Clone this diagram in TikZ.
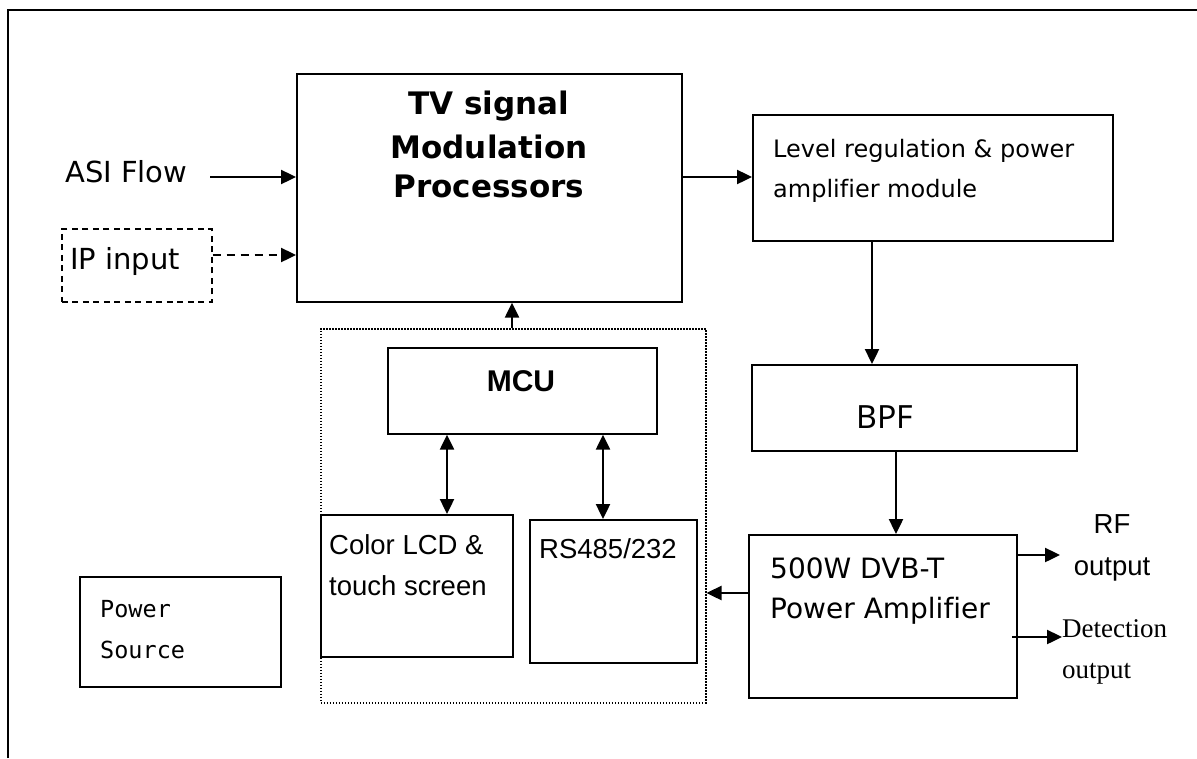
\documentclass[tikz,border=0pt]{standalone}
\usepackage{fontspec}
\setmainfont[Ligatures=CommonOff]{DejaVu Sans}
\newfontfamily\arialf{Liberation Sans}
\newfontfamily\timesf{Liberation Serif}
\newfontfamily\monof{DejaVu Sans Mono}
\newfontfamily\notof{Noto Sans}
\usetikzlibrary{arrows.meta}
\begin{document}
\begin{tikzpicture}[x=1pt,y=-1pt,
  box/.style={draw, line width=1.7pt, inner sep=0pt, anchor=north west},
  conn/.style={line width=2.4pt, -{Triangle[length=15pt,width=14pt]}},
  dconn/.style={line width=2.4pt, {Triangle[length=15pt,width=14pt]}-{Triangle[length=15pt,width=14pt]}},
  lbl/.style={inner sep=0pt, anchor=base west},
  clbl/.style={inner sep=0pt, anchor=base}]
\useasboundingbox (0,0) rectangle (1197,758);
% outer frame
\coordinate (fbl) at (8,758);
\coordinate (ftl) at (8,10);
\coordinate (ftr) at (1197,10);
\draw[line width=2pt] (fbl) -- (ftl) -- (ftr);

% boxes
\node[box, dashed, line width=1.6pt, dash pattern=on 6pt off 4.5pt, minimum width=150pt, minimum height=73pt] (ip) at (61,228) {};
\node[box, minimum width=385pt, minimum height=228pt] (tv) at (296,73) {};
\node[box, minimum width=360pt, minimum height=126pt] (lvl) at (752,114) {};
\node[box, minimum width=325pt, minimum height=86pt] (bpf) at (751,364) {};
\node[box, minimum width=268pt, minimum height=163pt] (pa) at (748,534) {};
\node[box, line width=1.5pt, dash pattern=on 1.5pt off 1.5pt, minimum width=385pt, minimum height=374pt] (dot) at (320,328) {};
\node[box, minimum width=269pt, minimum height=86pt] (mcu) at (387,347) {};
\node[box, minimum width=192pt, minimum height=142pt] (lcd) at (320,514) {};
\node[box, minimum width=167pt, minimum height=143pt] (rs) at (529,519) {};
\node[box, minimum width=201pt, minimum height=110pt] (pwr) at (79,576) {};

% texts
\node[lbl, font=\fontsize{29}{35}\selectfont] (asi) at (65,182) {ASI Flow};
\node[lbl, font=\fontsize{29}{35}\selectfont] (iptxt) at (70,269) {IP input};
\node[clbl, font=\bfseries\fontsize{31}{36}\selectfont] (tv1) at (489,114) {TV signal};
\node[clbl, font=\bfseries\fontsize{31}{36}\selectfont] (tv2) at (489,158) {Modulation};
\node[clbl, font=\bfseries\fontsize{31}{36}\selectfont] (tv3) at (489,197) {Processors};
\node[lbl, font=\fontsize{24}{30}\selectfont] (lv1) at (773,157) {Level regulation \& power};
\node[lbl, font=\fontsize{24}{30}\selectfont] (lv2) at (773,197) {amplifier module};
\node[clbl, font=\notof\fontsize{32}{38}\selectfont] (bpft) at (885,428) {BPF};
\node[lbl, font=\fontsize{28}{34}\selectfont] (pa1) at (770,578) {500W DVB-T};
\node[lbl, font=\fontsize{28}{34}\selectfont] (pa2) at (770,618) {Power Amplifier};
\node[clbl, font=\arialf\fontsize{27.5}{33}\selectfont] (rf1) at (1112,533) {RF};
\node[clbl, font=\arialf\fontsize{27.5}{33}\selectfont] (rf2) at (1112,575) {output};
\node[lbl, font=\timesf\fontsize{27}{33}\selectfont] (de1) at (1062,637) {Detection};
\node[lbl, font=\timesf\fontsize{27}{33}\selectfont] (de2) at (1062,678) {output};
\node[clbl, font=\arialf\bfseries\fontsize{30}{36}\selectfont] (mcut) at (521,391) {MCU};
\node[lbl, font=\arialf\fontsize{27.5}{33}\selectfont] (lc1) at (329,554) {Color LCD \&};
\node[lbl, font=\arialf\fontsize{27.5}{33}\selectfont] (lc2) at (329,595) {touch screen};
\node[lbl, font=\arialf\fontsize{27.5}{33}\selectfont] (rst) at (539,558) {RS485/232};
\node[lbl, font=\monof\fontsize{23.5}{29}\selectfont] (pw1) at (100,617) {Power};
\node[lbl, font=\monof\fontsize{23.5}{29}\selectfont] (pw2) at (100,658) {Source};

% connector helper coordinates
\coordinate (asiS) at (210,177);
\coordinate (ipY) at (0,255);
\coordinate (tvY) at (0,177);
\coordinate (x872) at (872,0);
\coordinate (x896) at (896,0);
\coordinate (paY) at (0,593);
\coordinate (x512) at (512,0);
\coordinate (x447) at (447,0);
\coordinate (x603) at (603,0);
\coordinate (rfE) at (1060,555);
\coordinate (deS) at (1012,637);
\coordinate (deE) at (1062,637);

% connectors
\draw[conn] (asiS) -- (tv.west |- asiS);
\draw[conn, dash pattern=on 8pt off 6pt] (ip.east |- ipY) -- (tv.west |- ipY);
\draw[conn] (tv.east |- tvY) -- (lvl.west |- tvY);
\draw[conn] (lvl.south -| x872) -- (bpf.north -| x872);
\draw[conn] (bpf.south -| x896) -- (pa.north -| x896);
\draw[conn] (pa.west |- paY) -- (dot.east |- paY);
\draw[conn] (dot.north -| x512) -- (tv.south -| x512);
\draw[dconn] (mcu.south -| x447) -- (lcd.north -| x447);
\draw[dconn] (mcu.south -| x603) -- (rs.north -| x603);
\draw[conn] (pa.east |- rfE) -- (rfE);
\draw[conn] (deS) -- (deE);
\end{tikzpicture}
\end{document}
